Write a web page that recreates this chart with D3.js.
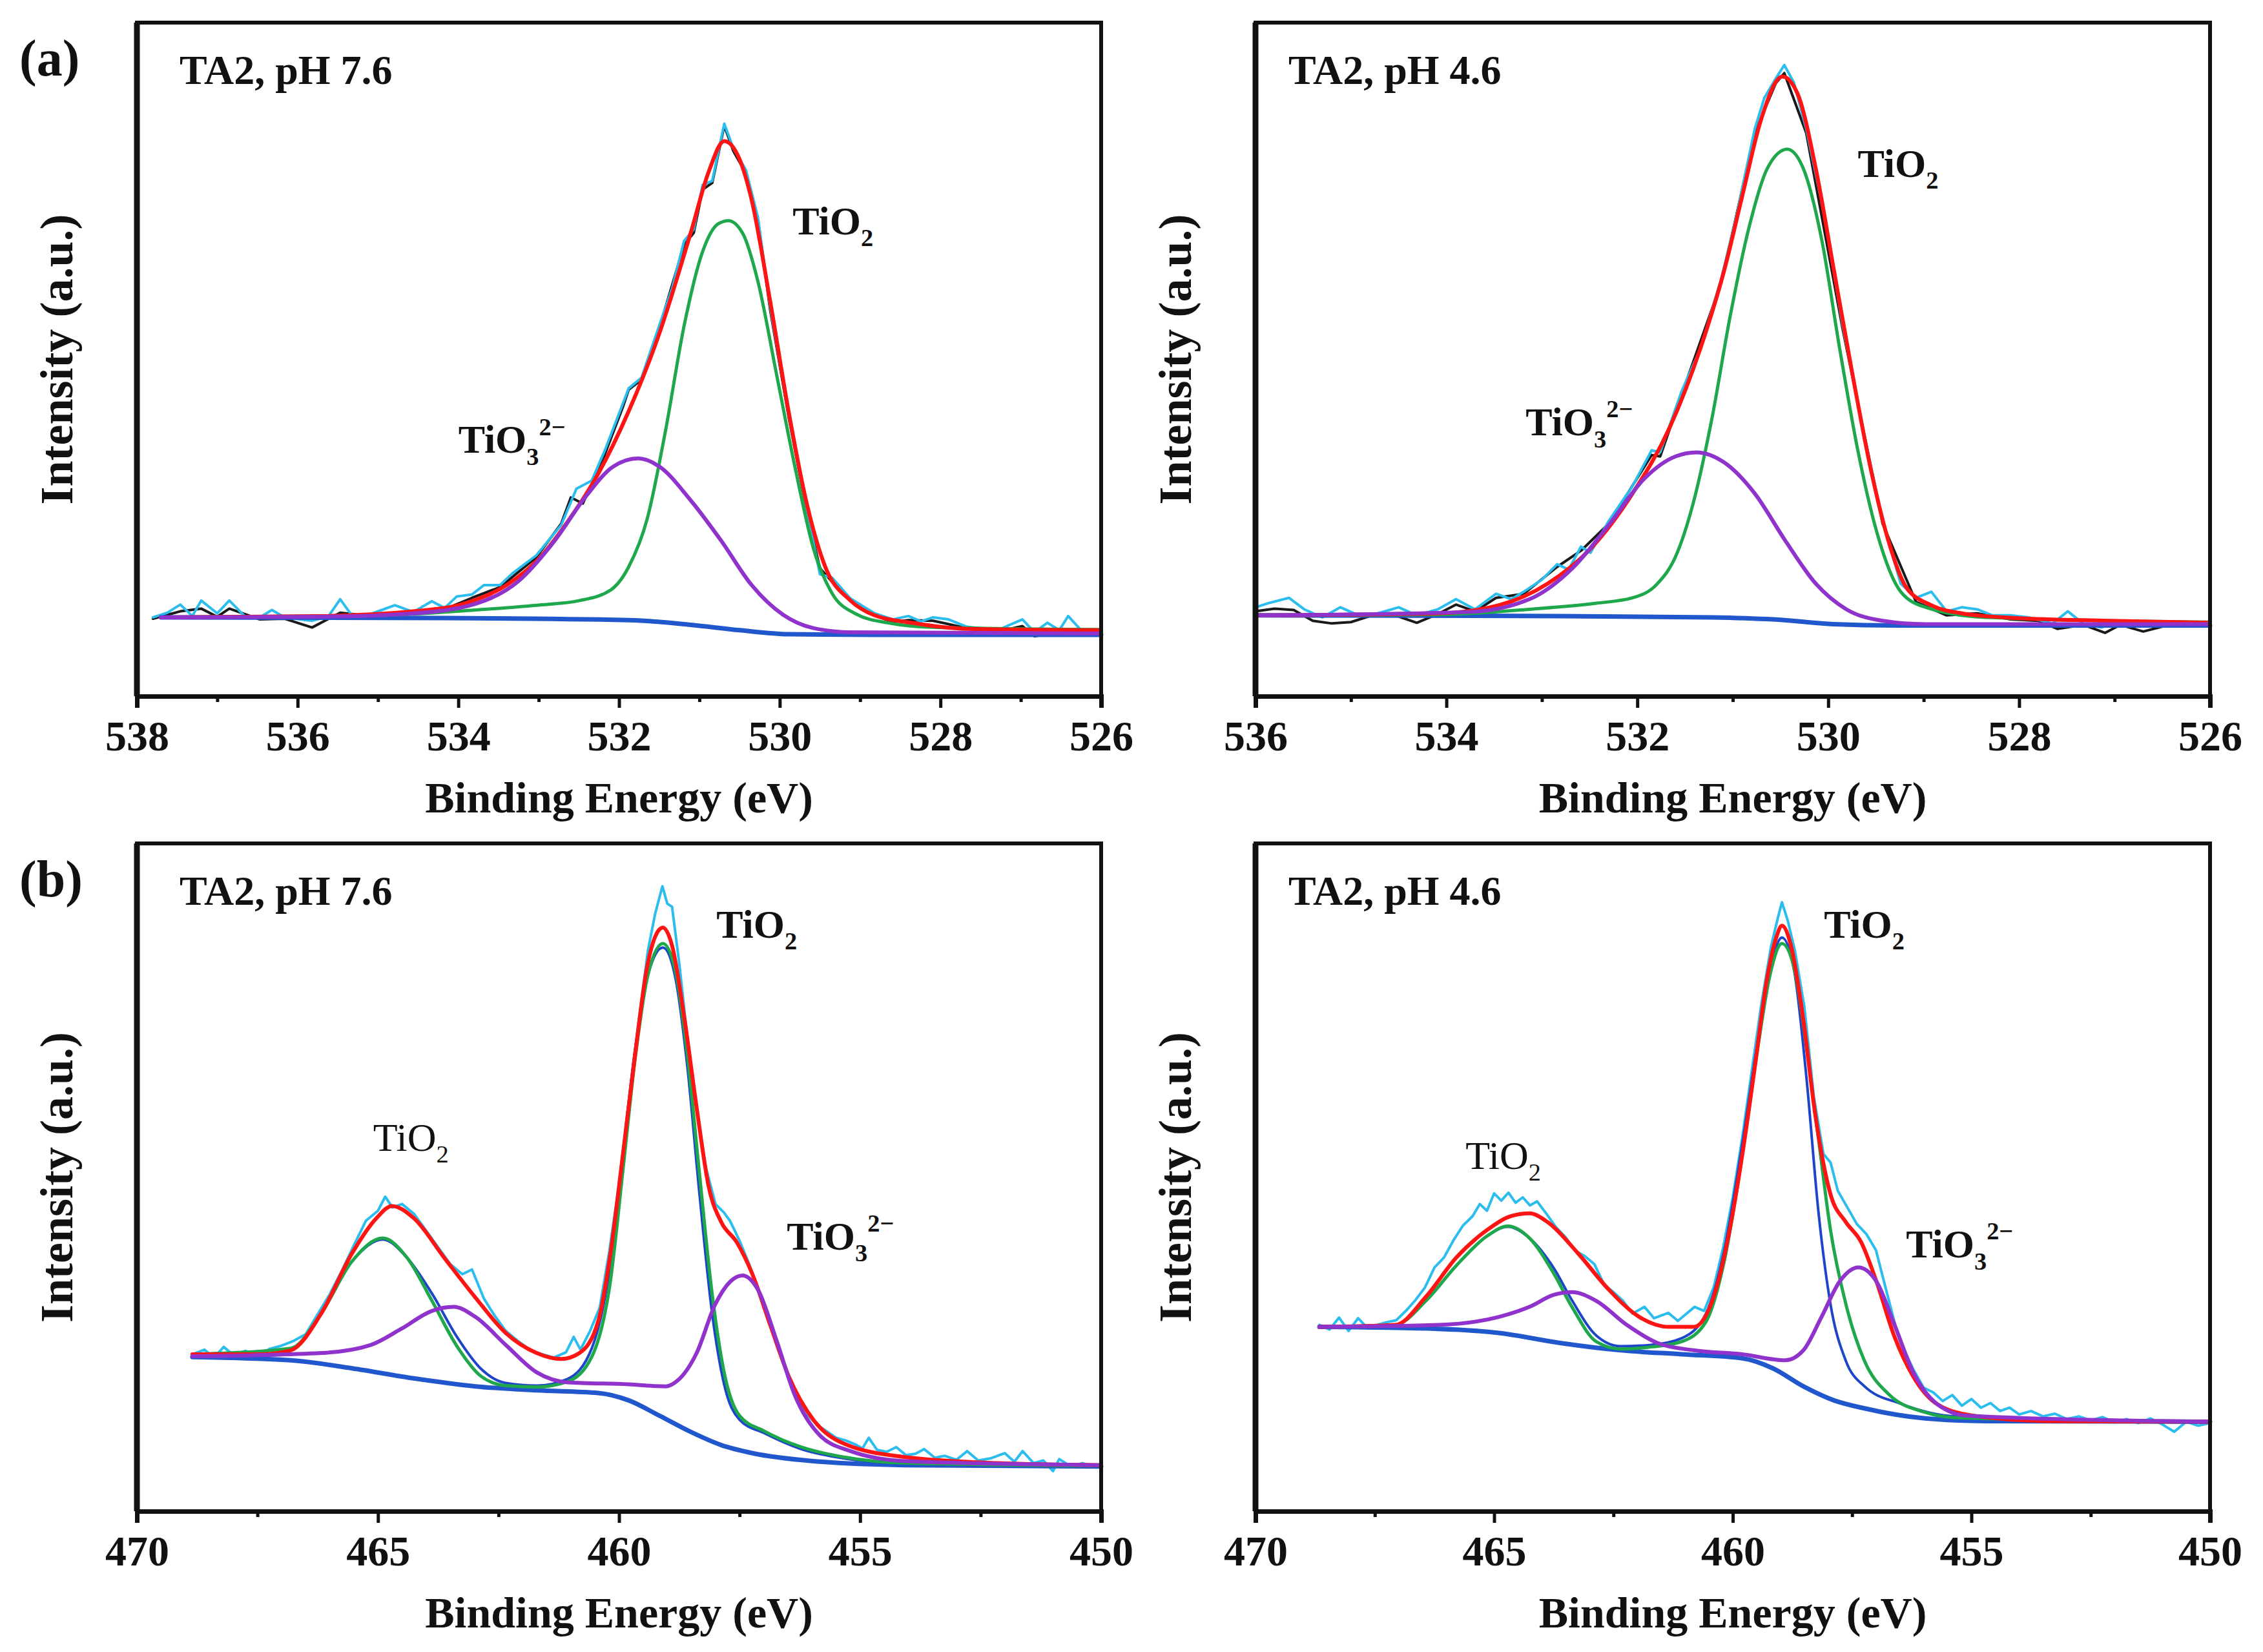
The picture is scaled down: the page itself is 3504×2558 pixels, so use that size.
<!DOCTYPE html>
<meta charset="utf-8">
<body style="margin:0;background:#fff">
<div id="fig"></div>
<script src="https://d3js.org/d3.v7.min.js"></script>
<script>

// ---- data: [binding energy (eV), intensity (a.u., 0-100 of frame)] ----

// (a) O 1s, TA2 pH 7.6
var a76Ticks = [538, 536, 534, 532, 530, 528, 526];
var a76Minor = [537, 535, 533, 531, 529, 527];
var a76Raw = [[537.8,11.7],[537.62,12.4],[537.46,13.6],[537.31,11.9],[537.2,14.2],[537.0,12.3],[536.85,14.2],[536.66,11.9],[536.47,11.7],[536.32,12.8],[536.16,11.7],[535.82,11.2],[535.62,11.8],[535.47,14.4],[535.32,11.9],[535.09,12.2],[534.79,13.5],[534.56,12.5],[534.33,14.1],[534.17,13.1],[534.02,14.8],[533.83,15.1],[533.68,16.5],[533.48,16.5],[533.33,18.2],[533.03,20.9],[532.72,25.4],[532.53,30.8],[532.34,32.0],[532.18,36.4],[531.95,43.5],[531.88,45.7],[531.72,47.3],[531.5,55.0],[531.34,60.5],[531.19,67.6],[531.07,69.3],[530.96,75.9],[530.84,76.5],[530.69,85.0],[530.58,81.4],[530.42,78.1],[530.27,71.0],[530.12,57.8],[529.89,41.8],[529.66,27.5],[529.5,18.1],[529.35,17.6],[529.12,14.5],[528.82,12.3],[528.59,11.4],[528.4,11.9],[528.24,11.1],[528.09,11.7],[527.9,11.4],[527.67,10.3],[527.29,9.8],[526.98,11.4],[526.83,9.5],[526.67,10.9],[526.52,9.8],[526.41,11.9],[526.25,9.8],[526.0,9.8]];
var a76Black = [[537.8,11.5],[537.46,12.6],[537.2,13.0],[537.0,11.8],[536.85,13.0],[536.47,11.4],[536.16,11.5],[535.82,10.2],[535.47,12.4],[535.09,11.9],[534.56,12.3],[534.17,12.9],[533.83,14.6],[533.48,16.2],[533.03,20.6],[532.72,25.6],[532.6,29.5],[532.45,28.6],[532.34,31.5],[532.18,35.8],[531.95,43.0],[531.88,45.5],[531.72,47.0],[531.5,54.6],[531.19,67.0],[531.07,68.8],[530.96,75.2],[530.84,76.2],[530.69,84.7],[530.58,81.0],[530.42,77.6],[530.27,70.6],[530.12,57.4],[529.89,41.5],[529.66,27.3],[529.5,19.0],[529.35,17.0],[529.12,14.3],[528.82,12.0],[528.59,11.0],[528.4,11.3],[528.09,11.2],[527.67,10.1],[527.29,9.6],[526.98,10.4],[526.83,8.9],[526.52,9.6],[526.25,9.6],[526.0,9.7]];
var a76Fit = [[537.7,11.7],[535.7,11.9],[534.56,12.6],[533.94,13.7],[533.4,16.5],[533.0,20.4],[532.64,25.9],[532.26,33.0],[531.88,42.3],[531.5,53.8],[531.11,68.7],[530.88,78.0],[530.69,82.4],[530.5,79.7],[530.35,73.7],[530.12,58.7],[529.89,42.3],[529.66,28.4],[529.43,19.1],[529.12,14.2],[528.82,12.0],[528.36,10.9],[527.67,10.0],[526.0,9.8]];
var a76TiO2 = [[537.7,11.7],[534.94,12.0],[533.79,12.8],[533.03,13.5],[532.49,14.2],[532.1,15.8],[531.88,19.2],[531.65,26.3],[531.42,39.5],[531.19,55.0],[530.96,66.0],[530.77,70.1],[530.64,70.6],[530.46,68.7],[530.27,61.5],[530.04,47.8],[529.81,34.0],[529.58,21.9],[529.35,15.3],[529.05,12.2],[528.66,10.9],[528.05,10.2],[526.0,9.9]];
var a76TiO3 = [[537.7,11.7],[535.7,11.8],[534.56,12.3],[533.79,13.7],[533.26,17.0],[532.8,23.1],[532.41,29.7],[532.07,34.1],[531.76,35.3],[531.5,34.1],[531.11,29.1],[530.73,23.1],[530.35,16.5],[529.96,12.1],[529.58,10.1],[529.12,9.5],[526.0,9.3]];
var a76Bg = [[537.7,11.7],[534.17,11.6],[531.88,11.3],[531.11,10.6],[530.5,9.8],[529.89,9.2],[528.82,9.1],[526.0,9.1]];

// (a) O 1s, TA2 pH 4.6
var a46Ticks = [536, 534, 532, 530, 528, 526];
var a46Minor = [535, 533, 531, 529, 527];
var a46Raw = [[536.0,13.2],[535.87,13.8],[535.65,14.6],[535.49,12.9],[535.3,11.7],[535.11,13.2],[534.92,12.0],[534.72,12.3],[534.5,13.2],[534.31,12.0],[534.09,12.9],[533.9,14.4],[533.7,12.9],[533.48,15.2],[533.32,14.4],[533.19,15.5],[533.0,17.3],[532.84,19.6],[532.72,18.8],[532.59,22.2],[532.49,21.3],[532.3,26.0],[532.05,31.2],[531.85,36.5],[531.76,36.2],[531.54,45.1],[531.34,51.6],[531.12,62.0],[530.96,71.4],[530.77,84.2],[530.67,88.8],[530.55,91.7],[530.46,93.7],[530.36,91.1],[530.23,84.2],[530.04,71.4],[529.85,55.1],[529.65,40.6],[529.43,26.0],[529.24,16.7],[529.08,14.6],[528.92,15.5],[528.76,12.6],[528.6,13.2],[528.44,12.9],[528.28,12.0],[528.09,12.0],[527.9,11.7],[527.65,10.8],[527.49,12.6],[527.33,10.8],[527.14,10.2],[526.94,11.1],[526.69,10.5],[526.43,11.1],[526.24,10.5],[526.0,11.1]];
var a46Black = [[536.0,12.6],[535.8,13.0],[535.6,12.8],[535.4,11.2],[535.2,10.8],[535.0,11.0],[534.8,11.9],[534.6,12.3],[534.31,10.9],[534.09,12.2],[533.9,13.6],[533.7,12.6],[533.48,14.6],[533.19,15.2],[532.84,19.2],[532.59,21.6],[532.3,25.6],[531.85,35.8],[531.76,35.6],[531.54,44.6],[531.12,61.4],[530.77,83.6],[530.55,91.0],[530.46,92.5],[530.23,83.6],[529.85,54.6],[529.43,25.6],[529.08,14.0],[528.76,12.0],[528.44,12.3],[528.09,11.4],[527.8,11.2],[527.6,10.0],[527.33,10.6],[527.1,9.4],[526.94,10.6],[526.7,9.6],[526.43,10.6],[526.0,10.8]];
var a46Fit = [[536.0,12.0],[534.09,12.3],[533.45,13.5],[532.94,16.7],[532.49,21.9],[532.05,30.1],[531.66,39.9],[531.34,51.6],[531.09,63.2],[530.9,74.3],[530.71,85.3],[530.48,92.0],[530.32,89.4],[530.13,78.3],[529.94,63.2],[529.75,48.1],[529.56,34.1],[529.37,23.1],[529.18,16.1],[528.92,13.5],[528.6,12.3],[528.03,11.6],[527.07,11.2],[526.0,10.9]];
var a46TiO2 = [[536.0,12.0],[534.09,12.1],[533.13,12.9],[532.43,13.8],[532.05,14.6],[531.79,16.7],[531.6,20.7],[531.41,28.9],[531.22,41.1],[531.03,56.2],[530.83,69.6],[530.64,78.3],[530.43,81.2],[530.26,78.3],[530.07,67.9],[529.88,51.6],[529.69,36.5],[529.49,24.3],[529.24,15.5],[528.98,13.2],[528.35,11.7],[526.0,11.0]];
var a46TiO3 = [[536.0,12.0],[533.77,12.5],[533.13,14.4],[532.68,19.0],[532.3,25.4],[531.92,32.4],[531.6,35.6],[531.38,36.2],[531.09,34.7],[530.77,30.1],[530.45,23.1],[530.13,16.7],[529.81,12.9],[529.43,11.2],[528.98,10.7],[526.0,10.7]];
var a46Bg = [[536.0,12.0],[532.81,11.9],[531.22,11.7],[530.58,11.4],[529.94,10.7],[529.3,10.5],[526.0,10.5]];

// (b) Ti 2p, TA2 pH 7.6
var b76Ticks = [470, 465, 460, 455, 450];
var b76Minor = [467.5, 462.5, 457.5, 452.5];
var b76Raw = [[468.85,23.5],[468.6,24.2],[468.4,23.0],[468.2,24.6],[468.0,23.4],[467.75,24.0],[467.5,23.2],[467.25,24.3],[467.0,24.8],[466.75,25.5],[466.5,26.5],[466.25,29.5],[466.0,32.5],[465.75,36.0],[465.5,39.8],[465.25,43.5],[465.0,45.0],[464.85,47.1],[464.7,45.5],[464.5,46.0],[464.25,44.5],[464.0,42.0],[463.75,39.5],[463.5,37.0],[463.25,35.5],[463.05,36.2],[462.8,31.8],[462.6,29.5],[462.35,27.0],[462.1,25.5],[461.85,24.2],[461.6,23.5],[461.35,23.0],[461.1,23.8],[460.94,26.1],[460.8,24.2],[460.6,27.0],[460.4,30.5],[460.2,39.0],[460.0,49.0],[459.8,61.0],[459.6,73.0],[459.4,84.0],[459.25,89.5],[459.1,93.6],[459.0,91.0],[458.9,90.5],[458.75,82.0],[458.6,72.0],[458.4,61.0],[458.2,51.5],[458.0,46.0],[457.82,44.7],[457.7,43.5],[457.5,40.5],[457.3,37.0],[457.1,33.0],[456.9,28.5],[456.7,24.5],[456.5,20.5],[456.3,17.0],[456.1,14.5],[455.9,13.0],[455.7,12.0],[455.5,11.0],[455.3,10.6],[455.1,10.0],[454.95,9.4],[454.82,11.0],[454.65,9.2],[454.45,8.9],[454.25,9.6],[454.05,8.4],[453.85,8.6],[453.67,9.3],[453.45,8.0],[453.25,8.3],[453.0,7.7],[452.78,9.0],[452.55,7.6],[452.3,7.9],[452.0,8.7],[451.8,7.4],[451.63,9.0],[451.4,7.2],[451.2,7.6],[451.0,6.0],[450.87,7.8],[450.6,6.6],[450.4,7.2],[450.2,6.8],[450.0,7.0]];
var b76Fit = [[468.85,23.5],[467.45,23.5],[466.81,24.1],[466.17,29.7],[465.54,38.6],[465.03,43.9],[464.71,45.7],[464.26,43.9],[463.62,37.9],[462.98,32.0],[462.35,26.7],[461.71,23.7],[461.2,22.8],[460.82,23.7],[460.43,28.5],[460.18,38.5],[459.92,53.4],[459.67,68.2],[459.41,81.8],[459.22,86.5],[459.09,87.4],[458.9,84.7],[458.65,74.1],[458.39,60.4],[458.14,48.6],[457.88,43.3],[457.56,40.3],[457.24,35.6],[456.86,27.8],[456.48,20.2],[455.97,13.7],[455.33,10.1],[454.06,8.1],[452.14,7.2],[450.0,6.9]];
var b76TiO2 = [[468.85,23.5],[466.81,24.4],[466.17,29.7],[465.54,37.4],[464.9,40.9],[464.39,37.9],[463.88,31.5],[463.37,24.8],[462.86,20.2],[462.35,18.8],[461.71,18.6],[461.07,19.4],[460.56,23.2],[460.18,34.4],[459.92,51.0],[459.67,67.5],[459.41,80.0],[459.09,85.0],[458.84,81.2],[458.58,68.2],[458.33,50.4],[458.07,32.6],[457.82,20.8],[457.5,14.3],[456.99,12.0],[456.22,9.6],[455.33,8.1],[454.06,7.2],[450.0,6.8]];
var b76Ti = [[468.85,23.5],[466.81,24.4],[466.17,29.7],[465.54,37.4],[464.9,40.7],[464.39,37.9],[463.88,32.6],[463.37,26.2],[462.86,21.3],[462.35,19.2],[461.71,18.8],[461.07,19.8],[460.56,24.5],[460.18,37.0],[459.92,53.6],[459.67,69.0],[459.41,80.0],[459.09,84.4],[458.84,80.2],[458.58,66.4],[458.33,47.4],[458.07,29.7],[457.82,19.0],[457.5,13.7],[456.99,11.7],[456.22,9.3],[455.33,7.9],[454.06,7.1],[450.0,6.7]];
var b76TiO3 = [[468.85,23.2],[466.17,23.7],[465.15,24.9],[464.52,27.3],[463.88,30.0],[463.43,30.6],[462.98,29.1],[462.35,24.9],[461.71,20.8],[461.07,19.3],[459.8,19.0],[459.03,18.7],[458.78,19.6],[458.39,23.7],[458.01,30.9],[457.69,34.4],[457.44,35.3],[457.12,33.2],[456.73,25.5],[456.35,17.3],[455.84,11.4],[455.2,9.0],[454.06,7.5],[450.0,6.9]];
var b76Bg = [[468.85,23.1],[466.81,22.6],[465.54,21.4],[464.26,19.9],[462.98,18.7],[461.71,18.1],[460.43,17.7],[459.8,16.6],[459.16,14.3],[458.52,11.9],[457.88,9.9],[457.24,8.7],[455.97,7.5],[454.06,6.9],[450.0,6.7]];

// (b) Ti 2p, TA2 pH 4.6
var b46Ticks = [470, 465, 460, 455, 450];
var b46Minor = [467.5, 462.5, 457.5, 452.5];
var b46Raw = [[468.66,27.9],[468.45,27.2],[468.25,29.0],[468.05,27.0],[467.85,28.9],[467.65,27.4],[467.45,27.9],[467.25,28.3],[467.05,28.6],[466.85,30.0],[466.65,31.6],[466.45,33.5],[466.25,36.5],[466.05,38.0],[465.85,40.6],[465.65,42.8],[465.45,44.2],[465.3,46.0],[465.15,45.0],[465.0,47.6],[464.85,46.5],[464.7,47.7],[464.55,46.2],[464.4,47.0],[464.25,45.8],[464.1,46.4],[463.9,44.5],[463.7,42.5],[463.5,41.0],[463.3,39.0],[463.1,38.2],[462.9,37.0],[462.7,34.0],[462.5,32.8],[462.3,31.5],[462.1,29.6],[461.85,30.6],[461.65,28.9],[461.35,29.7],[461.15,28.5],[460.8,30.6],[460.6,30.0],[460.4,33.5],[460.2,39.5],[460.0,47.0],[459.8,56.0],[459.6,66.0],[459.4,76.0],[459.2,84.5],[459.05,89.0],[458.97,91.2],[458.85,88.5],[458.7,84.0],[458.5,75.5],[458.3,62.0],[458.1,53.5],[457.95,52.2],[457.8,48.0],[457.6,45.5],[457.4,43.0],[457.2,41.5],[457.0,39.1],[456.8,33.5],[456.6,28.0],[456.4,24.0],[456.2,21.0],[456.0,18.5],[455.8,17.8],[455.6,16.5],[455.4,17.4],[455.2,15.8],[455.0,16.8],[454.8,15.5],[454.6,16.2],[454.4,15.0],[454.2,15.5],[454.0,14.5],[453.75,15.0],[453.5,14.2],[453.25,14.6],[453.0,13.8],[452.75,14.2],[452.5,13.6],[452.25,14.1],[452.0,13.3],[451.75,13.8],[451.5,13.2],[451.25,13.9],[451.0,13.0],[450.75,11.9],[450.5,13.4],[450.25,12.8],[450.0,13.2]];
var b46Fit = [[468.66,27.6],[467.07,27.9],[466.43,32.1],[465.79,38.0],[465.15,42.1],[464.64,44.2],[464.26,44.6],[463.88,43.3],[463.24,38.6],[462.6,33.2],[461.96,29.1],[461.33,27.6],[460.82,27.6],[460.43,31.5],[460.05,42.7],[459.8,53.4],[459.54,66.4],[459.29,79.4],[459.09,85.9],[458.97,87.7],[458.78,84.7],[458.52,73.5],[458.27,59.3],[457.95,47.4],[457.63,43.3],[457.31,40.3],[456.99,34.4],[456.61,26.1],[456.22,20.2],[455.71,16.0],[454.95,14.3],[453.42,13.5],[450.0,13.4]];
var b46TiO2 = [[468.66,27.6],[467.07,27.9],[466.43,31.5],[465.79,36.8],[465.15,41.2],[464.71,42.7],[464.26,40.9],[463.75,35.6],[463.37,30.6],[462.86,25.4],[462.35,24.3],[461.71,24.6],[461.07,25.4],[460.56,28.4],[460.18,37.4],[459.8,53.4],[459.48,69.2],[459.22,80.3],[458.97,85.0],[458.71,81.2],[458.46,69.7],[458.2,55.5],[457.95,42.0],[457.63,31.0],[457.24,22.5],[456.73,17.5],[455.97,14.8],[455.33,14.0],[450.0,13.4]];
var b46Ti = [[468.66,27.6],[467.07,27.9],[466.43,31.5],[465.79,36.8],[465.15,41.2],[464.71,42.6],[464.26,40.9],[463.75,36.4],[463.37,31.6],[462.86,26.3],[462.35,24.7],[461.71,24.9],[461.07,25.9],[460.56,29.6],[460.18,39.0],[459.8,55.0],[459.48,70.2],[459.22,81.0],[458.97,85.9],[458.71,80.8],[458.46,65.2],[458.2,44.5],[457.95,30.9],[457.63,22.5],[457.24,18.7],[456.48,16.1],[455.33,14.2],[450.0,13.4]];
var b46TiO3 = [[468.66,27.6],[466.17,27.9],[464.9,29.1],[464.26,30.6],[463.75,32.4],[463.37,32.8],[462.86,31.5],[462.22,27.9],[461.58,25.2],[460.82,24.1],[459.8,23.5],[458.9,22.6],[458.52,24.1],[458.14,29.1],[457.76,34.4],[457.37,36.5],[456.99,34.4],[456.61,27.9],[456.22,20.8],[455.71,16.0],[455.08,14.3],[450.0,13.4]];
var b46Bg = [[468.66,27.6],[466.17,27.3],[464.9,26.7],[463.62,25.2],[462.35,24.1],[461.07,23.5],[459.8,22.9],[459.16,21.4],[458.52,18.7],[457.88,16.6],[457.24,15.4],[455.97,13.9],[454.69,13.5],[450.0,13.4]];

// peak labels: [text, subscript, superscript, eV, intensity, bold]
var a76Labels = [["TiO", "2", "", 529.84, 68.6, true], ["TiO", "3", "2\u2212", 534.0, 36.1, true]];
var a46Labels = [["TiO", "2", "", 529.69, 77.1, true], ["TiO", "3", "2\u2212", 533.17, 38.7, true]];
var b76Labels = [["TiO", "2", "", 457.98, 85.9, true], ["TiO", "2", "", 465.1, 54.0, false], ["TiO", "3", "2\u2212", 456.52, 39.2, true]];
var b46Labels = [["TiO", "2", "", 458.09, 85.9, true], ["TiO", "2", "", 465.6, 51.3, false], ["TiO", "3", "2\u2212", 456.37, 38.0, true]];

// ---- layout ----
var W = 3504, H = 2558;
var FONT = "'Liberation Serif', 'Times New Roman', serif";

var svg = d3.select("#fig").append("svg")
    .attr("width", W)
    .attr("height", H)
    .style("background", "#fff");

var panels = [
  {letter: "(a)", title: "TA2, pH 7.6", left: 212, right: 1705, top: 35, bottom: 1078, domain: [538, 526],
   ticks: a76Ticks, minor: a76Minor, raw: a76Raw, black: a76Black, fit: a76Fit, tio2: a76TiO2, ti: null, tio3: a76TiO3, bg: a76Bg, labels: a76Labels},
  {letter: "", title: "TA2, pH 4.6", left: 1944, right: 3422, top: 35, bottom: 1078, domain: [536, 526],
   ticks: a46Ticks, minor: a46Minor, raw: a46Raw, black: a46Black, fit: a46Fit, tio2: a46TiO2, ti: null, tio3: a46TiO3, bg: a46Bg, labels: a46Labels},
  {letter: "(b)", title: "TA2, pH 7.6", left: 212, right: 1705, top: 1306, bottom: 2340, domain: [470, 450],
   ticks: b76Ticks, minor: b76Minor, raw: b76Raw, black: null, fit: b76Fit, tio2: b76TiO2, ti: b76Ti, tio3: b76TiO3, bg: b76Bg, labels: b76Labels},
  {letter: "", title: "TA2, pH 4.6", left: 1944, right: 3422, top: 1306, bottom: 2340, domain: [470, 450],
   ticks: b46Ticks, minor: b46Minor, raw: b46Raw, black: null, fit: b46Fit, tio2: b46TiO2, ti: b46Ti, tio3: b46TiO3, bg: b46Bg, labels: b46Labels}
];

panels.forEach(drawPanel);

function drawPanel(p) {
  var x = d3.scaleLinear().domain(p.domain).range([p.left, p.right]);
  var y = d3.scaleLinear().domain([0, 100]).range([p.bottom, p.top]);
  var g = svg.append("g");

  var smooth = d3.line()
    .x(function(d) { return x(d[0]); })
    .y(function(d) { return y(d[1]); })
    .curve(d3.curveMonotoneX);
  var jagged = d3.line()
    .x(function(d) { return x(d[0]); })
    .y(function(d) { return y(d[1]); });

  function path(data, gen, color, w) {
    if (!data) return;
    g.append("path")
      .datum(data)
      .attr("d", gen)
      .attr("fill", "none")
      .attr("stroke", color)
      .attr("stroke-width", w)
      .attr("stroke-linejoin", "round")
      .attr("stroke-linecap", "round");
  }

  // raw spectra first, then the fit lines
  path(p.black, jagged, "#1a1a1a", 4);
  path(p.raw, jagged, "#2bbdee", 4);
  path(p.bg, smooth, "#2157cc", 7);
  path(p.ti, smooth, "#1c45c9", 4);
  path(p.tio2, smooth, "#1fa84b", 5);
  path(p.fit, smooth, "#ff1414", 6);
  path(p.tio3, smooth, "#9033cc", 6);

  // frame
  g.append("rect")
    .attr("x", p.left).attr("y", p.top)
    .attr("width", p.right - p.left).attr("height", p.bottom - p.top)
    .attr("fill", "none").attr("stroke", "#111").attr("stroke-width", 6);
  g.append("line")
    .attr("x1", p.left).attr("x2", p.left).attr("y1", p.top).attr("y2", p.bottom)
    .attr("stroke", "#111").attr("stroke-width", 9);

  // x axis
  var minorAxis = g.append("g")
    .attr("transform", "translate(0," + p.bottom + ")")
    .call(d3.axisBottom(x).tickValues(p.minor).tickSize(9).tickFormat(""));
  minorAxis.select(".domain").remove();
  minorAxis.selectAll("line").attr("stroke", "#111").attr("stroke-width", 5);

  var axis = g.append("g")
    .attr("transform", "translate(0," + p.bottom + ")")
    .call(d3.axisBottom(x).tickValues(p.ticks).tickSize(18).tickPadding(19).tickFormat(d3.format("d")));
  axis.select(".domain").attr("stroke", "#111").attr("stroke-width", 7);
  axis.selectAll("line").attr("stroke", "#111").attr("stroke-width", 5);
  axis.selectAll("text")
    .attr("fill", "#111")
    .style("font-family", FONT)
    .style("font-weight", "bold")
    .style("font-size", "66px");

  // axis titles
  g.append("text")
    .attr("x", (p.left + p.right) / 2)
    .attr("y", p.bottom + 180)
    .attr("text-anchor", "middle")
    .style("font-family", FONT).style("font-weight", "bold").style("font-size", "68px")
    .attr("fill", "#111")
    .text("Binding Energy (eV)");

  g.append("text")
    .attr("transform", "translate(" + (p.left - 100) + "," + ((p.top + p.bottom) / 2) + ") rotate(-90)")
    .attr("text-anchor", "middle")
    .style("font-family", FONT).style("font-weight", "bold").style("font-size", "72px")
    .attr("fill", "#111")
    .text("Intensity (a.u.)");

  // sample title and panel letter
  g.append("text")
    .attr("x", p.left + (p.left < 1000 ? 66 : 51))
    .attr("y", p.top + 95)
    .style("font-family", FONT).style("font-weight", "bold").style("font-size", "64px")
    .attr("fill", "#111")
    .text(p.title);

  if (p.letter) {
    g.append("text")
      .attr("x", 30)
      .attr("y", p.top + 82)
      .style("font-family", FONT).style("font-weight", "bold").style("font-size", "80px")
      .attr("fill", "#111")
      .text(p.letter);
  }

  // peak labels
  p.labels.forEach(function(l) {
    var fs = 62;
    var t = g.append("text")
      .attr("x", x(l[3]))
      .attr("y", y(l[4]))
      .style("font-family", FONT)
      .style("font-weight", l[5] ? "bold" : "normal")
      .style("font-size", fs + "px")
      .attr("fill", "#111");
    t.append("tspan").text(l[0]);
    t.append("tspan").attr("dy", 0.3 * fs).style("font-size", (0.62 * fs) + "px").text(l[1]);
    if (l[2]) {
      t.append("tspan").attr("dy", -0.75 * fs).style("font-size", (0.62 * fs) + "px").text(l[2]);
    }
  });
}
</script>
</body>
